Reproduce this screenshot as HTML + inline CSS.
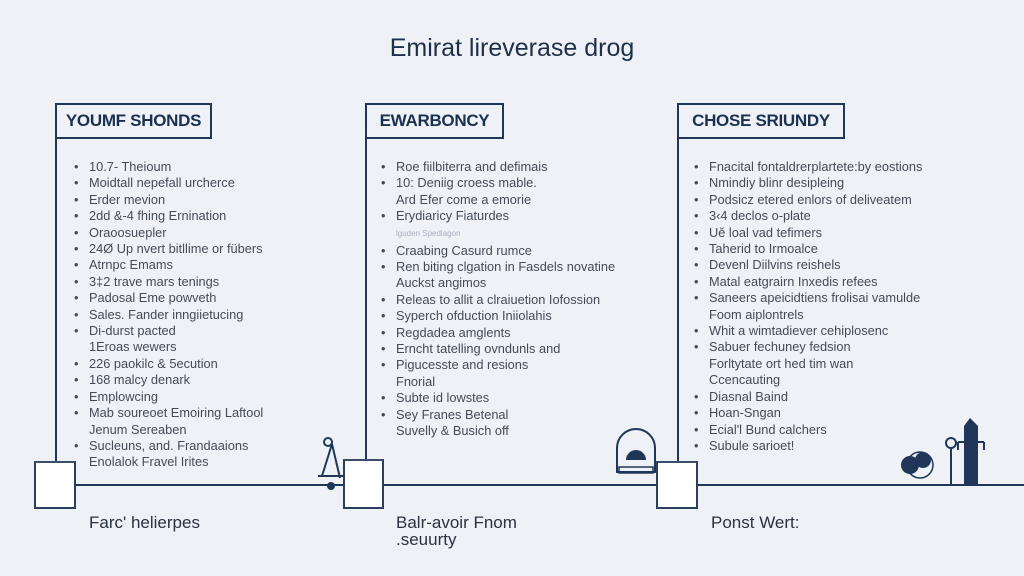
<!DOCTYPE html>
<html><head><meta charset="utf-8"><style>
*{margin:0;padding:0;box-sizing:border-box}
body{width:1024px;height:576px;background:#eef2f7;position:relative;overflow:hidden;font-family:"Liberation Sans",sans-serif;color:#3e4650}
.t{position:absolute;left:0;width:1024px;top:34px;text-align:center;font-size:25px;color:#1e2f48}
.h{position:absolute;height:36px;border:2px solid #1f3658;font-weight:bold;font-size:17px;color:#1b3050;display:flex;align-items:center;justify-content:center;background:#eef2f7;letter-spacing:-0.3px}
.v{position:absolute;width:2px;background:#1f3658}
.hl{position:absolute;height:2px;background:#1f3658}
.sq{position:absolute;background:#fff;border:2px solid #2a3f5e;border-top-color:#3a4e6a}
ul{position:absolute;list-style:none;font-size:12.8px;line-height:16.4px;color:#444b55}
li{position:relative;padding-left:15px;white-space:nowrap}
li.b:before{content:"•";position:absolute;left:0}
.f{position:absolute;font-size:17px;color:#2a3140;line-height:17px}
</style></head><body>
<div class="t">Emirat lireverase drog</div>

<div class="h" style="left:55px;top:103px;width:157px">YOUMF SHONDS</div>
<div class="v" style="left:55px;top:137px;height:325px"></div>
<div class="sq" style="left:34px;top:461px;width:42px;height:48px"></div>
<div class="hl" style="left:75px;top:484px;width:270px"></div>
<ul style="left:74px;top:159px">
<li class="b">10.7- Theioum</li><li class="b">Moidtall nepefall urcherce</li><li class="b">Erder mevion</li><li class="b">2dd &amp;-4 fhing Ernination</li><li class="b">Oraoosuepler</li><li class="b">24Ø Up nvert bitllime or fübers</li><li class="b">Atrnpc Emams</li><li class="b">3‡2 trave mars tenings</li><li class="b">Padosal Eme powveth</li><li class="b">Sales. Fander inngiietucing</li><li class="b">Di-durst pacted</li><li>1Eroas wewers</li><li class="b">226 paokilc &amp; 5ecution</li><li class="b">168 malcy denark</li><li class="b">Emplowcing</li><li class="b">Mab soureoet Emoiring Laftool</li><li>Jenum Sereaben</li><li class="b">Sucleuns, and. Frandaaions</li><li>Enolalok Fravel Irites</li>
</ul>
<div class="f" style="left:89px;top:514px">Farc' helierpes</div>

<div class="h" style="left:365px;top:103px;width:139px">EWARBONCY</div>
<div class="v" style="left:365px;top:137px;height:325px"></div>
<div class="sq" style="left:343px;top:459px;width:41px;height:50px"></div>
<div class="hl" style="left:383px;top:484px;width:275px"></div>
<ul style="left:381px;top:159px">
<li class="b">Roe fiilbiterra and defimais</li><li class="b">10: Deniig croess mable.</li><li>Ard Efer come a emorie</li><li class="b">Erydiaricy Fiaturdes</li><li style="font-size:8px;color:#a8b0bc;line-height:18px">lguden Spedlagon</li><li class="b">Craabing Casurd rumce</li><li class="b">Ren biting clgation in Fasdels novatine</li><li>Auckst angimos</li><li class="b">Releas to allit a clraiuetion Iofossion</li><li class="b">Syperch ofduction Iniiolahis</li><li class="b">Regdadea amglents</li><li class="b">Erncht tatelling ovndunls and</li><li class="b">Pigucesste and resions</li><li>Fnorial</li><li class="b">Subte id lowstes</li><li class="b">Sey Franes Betenal</li><li>Suvelly &amp; Busich off</li>
</ul>
<div class="f" style="left:396px;top:514px">Balr-avoir Fnom<br>.seuurty</div>

<div class="h" style="left:677px;top:103px;width:168px">CHOSE SRIUNDY</div>
<div class="v" style="left:677px;top:137px;height:325px"></div>
<div class="sq" style="left:656px;top:461px;width:42px;height:48px"></div>
<div class="hl" style="left:697px;top:484px;width:327px"></div>
<ul style="left:694px;top:159px">
<li class="b">Fnacital fontaldrerplartete:by eostions</li><li class="b">Nmindiy blinr desipleing</li><li class="b">Podsicz etered enlors of deliveatem</li><li class="b">3‹4 declos o-plate</li><li class="b">Uě loal vad tefimers</li><li class="b">Taherid to Irmoalce</li><li class="b">Devenl Diilvins reishels</li><li class="b">Matal eatgrairn Inxedis refees</li><li class="b">Saneers apeicidtiens frolisai vamulde</li><li>Foom aiplontrels</li><li class="b">Whit a wimtadiever cehiplosenc</li><li class="b">Sabuer fechuney fedsion</li><li>Forltytate ort hed tim wan</li><li>Ccencauting</li><li class="b">Diasnal Baind</li><li class="b">Hoan-Sngan</li><li class="b">Ecial'l Bund calchers</li><li class="b">Subule sarioet!</li>
</ul>
<div class="f" style="left:711px;top:514px">Ponst Wert:</div>

<svg width="1024" height="576" style="position:absolute;left:0;top:0">
<g stroke="#1f3658" fill="none" stroke-width="2">
<path d="M332 444 L322 476 M332 444 L340 478 M318 476 L344 476"/>
<circle cx="328" cy="442" r="4"/>
<path d="M617 472 L617 448 A19 19 0 0 1 655 448 L655 472 Z"/>
</g>
<circle cx="331" cy="486" r="4" fill="#1f3658"/>
<path d="M626 460 A10 10 0 0 1 646 460 Z" fill="#1f3658"/>
<rect x="619" y="467" width="34" height="6" fill="none" stroke="#1f3658" stroke-width="1.5"/>
<path d="M970 418 L978 426 L978 484 L964 484 L964 426 Z" fill="#1f3658"/>
<path d="M958 442 L984 442 M958 442 L958 450 M984 442 L984 450" stroke="#1f3658" stroke-width="2"/>
<circle cx="951" cy="443" r="5" fill="none" stroke="#1f3658" stroke-width="2"/>
<path d="M951 448 L951 484" stroke="#1f3658" stroke-width="2"/>
<circle cx="910" cy="465" r="9" fill="#1f3658"/>
<circle cx="923" cy="460" r="8" fill="#1f3658"/>
<circle cx="920" cy="465" r="13" fill="none" stroke="#1f3658" stroke-width="1.5"/>
</svg>
</body></html>
